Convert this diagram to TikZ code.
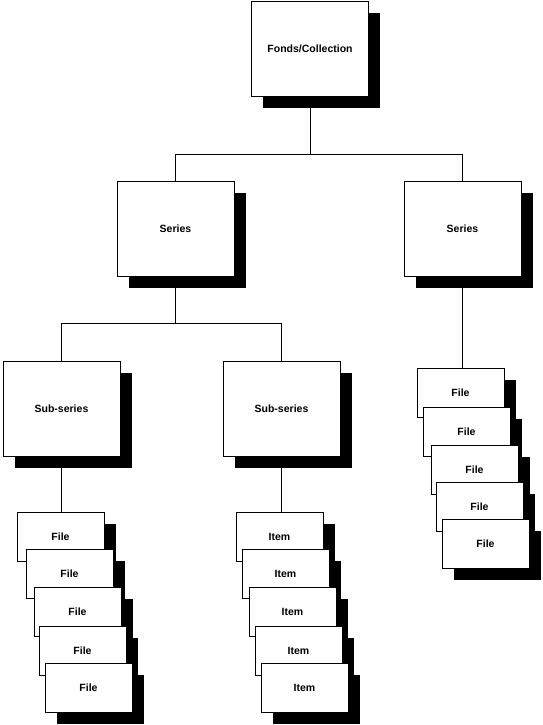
\documentclass[tikz,border=0pt]{standalone}
\usepackage{fontspec}
\setmainfont{Liberation Sans}
\usetikzlibrary{shadows}

\begin{document}
\begin{tikzpicture}[x=1pt,y=-1pt,line width=0.9pt,
    box/.style={rectangle,draw,fill=white,font=\fontsize{10.5}{12}\selectfont\bfseries,
      drop shadow={fill=black,opacity=1,shadow xshift=11.5pt,shadow yshift=-11.5pt}},
    big/.style={box,minimum width=117pt,minimum height=95pt},
    small/.style={box,minimum width=87pt,minimum height=49pt}]
          \useasboundingbox (0,0) rectangle (542,725);
          \node[big] (a) at(310,49) {Fonds/Collection};
          \node[big] (b) at(175.5,228.5) {Series};
          \node[big] (c) at(462.5,228.5) {Series};
          \node[big] (d) at(61.5,408.5) {Sub-series};
          \node[big] (e) at(281.5,408.5) {Sub-series};
          % stacks
          \foreach \x/\y [count=\i] in {60.5/536.5,69.5/573.5,77.5/611.5,82.5/650.5,88.5/687.5}
            \node[small] (d\i) at(\x,\y) {File};
          \foreach \x/\y [count=\i] in {279.5/536.5,285.5/573.5,292.5/611.5,298.5/650.5,304.5/687.5}
            \node[small] (e\i) at(\x,\y) {Item};
          \foreach \x/\y [count=\i] in {460.5/392.5,466.5/431.5,474.5/469.5,479.5/506.5,485.5/543.5}
            \node[small] (c\i) at(\x,\y) {File};
          % connectors
          \draw (a.south) -- ++(0,57) coordinate (ab);
          \draw (b.north) |- (ab) -| (c.north);
          \draw (b.south) -- ++(0,47) coordinate (bd);
          \draw (d.north) |- (bd) -| (e.north);
          \draw (d.south) -- (d.south |- d1.north);
          \draw (e.south) -- (e.south |- e1.north);
          \draw (c.south) -- (c.south |- c1.north);
        \end{tikzpicture}
\end{document}
